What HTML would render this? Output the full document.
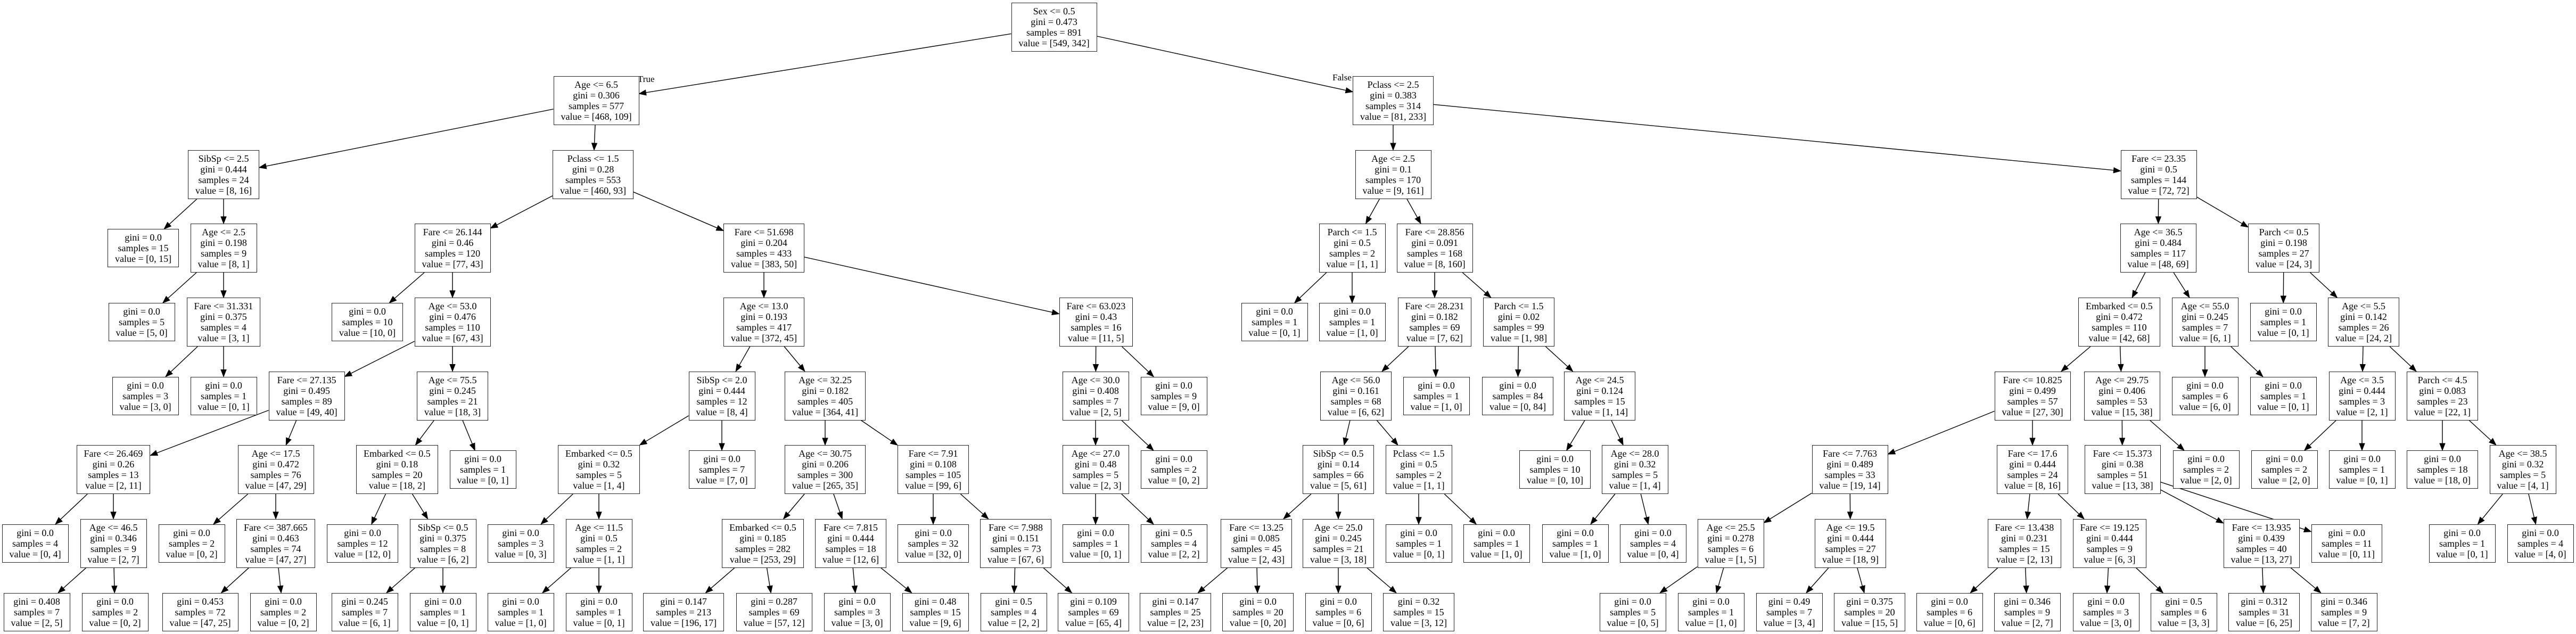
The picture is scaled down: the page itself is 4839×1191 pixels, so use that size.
<!DOCTYPE html>
<html><head><meta charset="utf-8">
<style>
html,body{margin:0;padding:0;background:#fff;}
#c{position:relative;width:4839px;height:1191px;overflow:hidden;background:#fff;}
.n{position:absolute;box-sizing:border-box;border:1.5px solid #222;background:#fff;
font-family:"Liberation Serif",serif;font-size:18px;line-height:20px;text-align:center;
padding:5px 13px;white-space:nowrap;color:#000;}
.lbl{position:absolute;font-family:"Liberation Serif",serif;font-size:17px;line-height:18px;color:#000;white-space:nowrap;}
svg{position:absolute;left:0;top:0;}
</style></head><body>
<div id="c">
<svg id="s" width="4839" height="1191"></svg>
<div class="lbl" style="left:1198px;top:140px;">True</div>
<div class="lbl" style="left:2503px;top:137px;">False</div>
</div>
<script>
var Y=[50.5,189,328,466,605,743.5,882,1020.7,1149.7];
function I(f,g,s,v){return [f,"gini = "+g,"samples = "+s,"value = ["+v+"]"];}
function Lf(g,s,v){return ["gini = "+g,"samples = "+s,"value = ["+v+"]"];}
var N=[
[1980,0,I("Sex <= 0.5","0.473",891,"549, 342"),-1],
[1120,1,I("Age <= 6.5","0.306",577,"468, 109"),0],
[2617,1,I("Pclass <= 2.5","0.383",314,"81, 233"),0],
[420,2,I("SibSp <= 2.5","0.444",24,"8, 16"),1],
[1114,2,I("Pclass <= 1.5","0.28",553,"460, 93"),1],
[2617,2,I("Age <= 2.5","0.1",170,"9, 161"),2],
[4055,2,I("Fare <= 23.35","0.5",144,"72, 72"),2],
[269,3,Lf("0.0",15,"0, 15"),3],
[420,3,I("Age <= 2.5","0.198",9,"8, 1"),3],
[850,3,I("Fare <= 26.144","0.46",120,"77, 43"),4],
[1435,3,I("Fare <= 51.698","0.204",433,"383, 50"),4],
[2540,3,I("Parch <= 1.5","0.5",2,"1, 1"),5],
[2695,3,I("Fare <= 28.856","0.091",168,"8, 160"),5],
[4054,3,I("Age <= 36.5","0.484",117,"48, 69"),6],
[4290,3,I("Parch <= 0.5","0.198",27,"24, 3"),6],
[266,4,Lf("0.0",5,"5, 0"),8],
[420,4,I("Fare <= 31.331","0.375",4,"3, 1"),8],
[690,4,Lf("0.0",10,"10, 0"),9],
[850,4,I("Age <= 53.0","0.476",110,"67, 43"),9],
[1435,4,I("Age <= 13.0","0.193",417,"372, 45"),10],
[2059,4,I("Fare <= 63.023","0.43",16,"11, 5"),10],
[2394,4,Lf("0.0",1,"0, 1"),11],
[2540,4,Lf("0.0",1,"1, 0"),11],
[2695,4,I("Fare <= 28.231","0.182",69,"7, 62"),12],
[2853,4,I("Parch <= 1.5","0.02",99,"1, 98"),12],
[3981,4,I("Embarked <= 0.5","0.472",110,"42, 68"),13],
[4142,4,I("Age <= 55.0","0.245",7,"6, 1"),13],
[4289,4,Lf("0.0",1,"0, 1"),14],
[4440,4,I("Age <= 5.5","0.142",26,"24, 2"),14],
[273,5,Lf("0.0",3,"3, 0"),16],
[420,5,Lf("0.0",1,"0, 1"),16],
[576,5,I("Fare <= 27.135","0.495",89,"49, 40"),18],
[850,5,I("Age <= 75.5","0.245",21,"18, 3"),18],
[1356,5,I("SibSp <= 2.0","0.444",12,"8, 4"),19],
[1550,5,I("Age <= 32.25","0.182",405,"364, 41"),19],
[2058,5,I("Age <= 30.0","0.408",7,"2, 5"),20],
[2205,5,Lf("0.0",9,"9, 0"),20],
[2547,5,I("Age <= 56.0","0.161",68,"6, 62"),23],
[2698,5,Lf("0.0",1,"1, 0"),23],
[2851,5,Lf("0.0",84,"0, 84"),24],
[3005,5,I("Age <= 24.5","0.124",15,"1, 14"),24],
[3818,5,I("Fare <= 10.825","0.499",57,"27, 30"),25],
[3986,5,I("Age <= 29.75","0.406",53,"15, 38"),25],
[4142,5,Lf("0.0",6,"6, 0"),26],
[4289,5,Lf("0.0",1,"0, 1"),26],
[4437,5,I("Age <= 3.5","0.444",3,"2, 1"),28],
[4588,5,I("Parch <= 4.5","0.083",23,"22, 1"),28],
[213,6,I("Fare <= 26.469","0.26",13,"2, 11"),31],
[518,6,I("Age <= 17.5","0.472",76,"47, 29"),31],
[746,6,I("Embarked <= 0.5","0.18",20,"18, 2"),32],
[907,6,Lf("0.0",1,"0, 1"),32],
[1125,6,I("Embarked <= 0.5","0.32",5,"1, 4"),33],
[1356,6,Lf("0.0",7,"7, 0"),33],
[1550,6,I("Age <= 30.75","0.206",300,"265, 35"),34],
[1753,6,I("Fare <= 7.91","0.108",105,"99, 6"),34],
[2058,6,I("Age <= 27.0","0.48",5,"2, 3"),35],
[2205,6,Lf("0.0",2,"0, 2"),35],
[2514,6,I("SibSp <= 0.5","0.14",66,"5, 61"),37],
[2665,6,I("Pclass <= 1.5","0.5",2,"1, 1"),37],
[2921,6,Lf("0.0",10,"0, 10"),40],
[3071,6,I("Age <= 28.0","0.32",5,"1, 4"),40],
[3475,6,I("Fare <= 7.763","0.489",33,"19, 14"),41],
[3818,6,I("Fare <= 17.6","0.444",24,"8, 16"),41],
[3987,6,I("Fare <= 15.373","0.38",51,"13, 38"),42],
[4144,6,Lf("0.0",2,"2, 0"),42],
[4291,6,Lf("0.0",2,"2, 0"),45],
[4437,6,Lf("0.0",1,"0, 1"),45],
[4588,6,Lf("0.0",18,"18, 0"),46],
[4739,6,I("Age <= 38.5","0.32",5,"4, 1"),46],
[66,7,Lf("0.0",4,"0, 4"),47],
[213,7,I("Age <= 46.5","0.346",9,"2, 7"),47],
[360,7,Lf("0.0",2,"0, 2"),48],
[518,7,I("Fare <= 387.665","0.463",74,"47, 27"),48],
[681,7,Lf("0.0",12,"12, 0"),49],
[832,7,I("SibSp <= 0.5","0.375",8,"6, 2"),49],
[978,7,Lf("0.0",3,"0, 3"),51],
[1125,7,I("Age <= 11.5","0.5",2,"1, 1"),51],
[1433,7,I("Embarked <= 0.5","0.185",282,"253, 29"),53],
[1598,7,I("Fare <= 7.815","0.444",18,"12, 6"),53],
[1753,7,Lf("0.0",32,"32, 0"),54],
[1908,7,I("Fare <= 7.988","0.151",73,"67, 6"),54],
[2058,7,Lf("0.0",1,"0, 1"),55],
[2205,7,Lf("0.5",4,"2, 2"),55],
[2360,7,I("Fare <= 13.25","0.085",45,"2, 43"),57],
[2514,7,I("Age <= 25.0","0.245",21,"3, 18"),57],
[2665,7,Lf("0.0",1,"0, 1"),58],
[2811,7,Lf("0.0",1,"1, 0"),58],
[2959,7,Lf("0.0",1,"1, 0"),60],
[3105,7,Lf("0.0",4,"0, 4"),60],
[3251,7,I("Age <= 25.5","0.278",6,"1, 5"),61],
[3476,7,I("Age <= 19.5","0.444",27,"18, 9"),61],
[3803,7,I("Fare <= 13.438","0.231",15,"2, 13"),62],
[3963,7,I("Fare <= 19.125","0.444",9,"6, 3"),62],
[4248,7,I("Fare <= 13.935","0.439",40,"13, 27"),63],
[4408,7,Lf("0.0",11,"0, 11"),63],
[4625,7,Lf("0.0",1,"0, 1"),68],
[4772,7,Lf("0.0",4,"4, 0"),68],
[69,8,Lf("0.408",7,"2, 5"),70],
[216,8,Lf("0.0",2,"0, 2"),70],
[376,8,Lf("0.453",72,"47, 25"),72],
[532,8,Lf("0.0",2,"0, 2"),72],
[685,8,Lf("0.245",7,"6, 1"),74],
[832,8,Lf("0.0",1,"0, 1"),74],
[978,8,Lf("0.0",1,"1, 0"),76],
[1125,8,Lf("0.0",1,"0, 1"),76],
[1284,8,Lf("0.147",213,"196, 17"),77],
[1454,8,Lf("0.287",69,"57, 12"),77],
[1610,8,Lf("0.0",3,"3, 0"),78],
[1757,8,Lf("0.48",15,"9, 6"),78],
[1904,8,Lf("0.5",4,"2, 2"),80],
[2054,8,Lf("0.109",69,"65, 4"),80],
[2208,8,Lf("0.147",25,"2, 23"),83],
[2363,8,Lf("0.0",20,"0, 20"),83],
[2514,8,Lf("0.0",6,"0, 6"),84],
[2665,8,Lf("0.32",15,"3, 12"),84],
[3067,8,Lf("0.0",5,"0, 5"),89],
[3214,8,Lf("0.0",1,"1, 0"),89],
[3361,8,Lf("0.49",7,"3, 4"),90],
[3512,8,Lf("0.375",20,"15, 5"),90],
[3662,8,Lf("0.0",6,"0, 6"),91],
[3808,8,Lf("0.346",9,"2, 7"),91],
[3956,8,Lf("0.0",3,"3, 0"),92],
[4102,8,Lf("0.5",6,"3, 3"),92],
[4253,8,Lf("0.312",31,"6, 25"),93],
[4403,8,Lf("0.346",9,"7, 2"),93]
];
var c=document.getElementById('c'),B=[];
N.forEach(function(n){
 var d=document.createElement('div');d.className='n';d.innerHTML=n[2].join('<br>');
 c.appendChild(d);var w=d.offsetWidth,h=d.offsetHeight;
 var x=n[0]-w/2,y=Y[n[1]]-h/2;d.style.left=x+'px';d.style.top=y+'px';
 B.push({cx:n[0],cy:Y[n[1]],hw:w/2,hh:h/2});
});
function clip(b,dx,dy){var t=Infinity;
 if(dx!==0)t=Math.min(t,b.hw/Math.abs(dx));
 if(dy!==0)t=Math.min(t,b.hh/Math.abs(dy));return t;}
var s='';
N.forEach(function(n,i){if(n[3]<0)return;var p=B[n[3]],q=B[i];
 var dx=q.cx-p.cx,dy=q.cy-p.cy,L=Math.sqrt(dx*dx+dy*dy),ux=dx/L,uy=dy/L;
 var t1=clip(p,dx,dy),t2=clip(q,-dx,-dy);
 var x1=p.cx+dx*t1,y1=p.cy+dy*t1,x2=q.cx-dx*t2,y2=q.cy-dy*t2;
 var al=13,aw=5,bx=x2-ux*al,by=y2-uy*al;
 s+='<line x1="'+x1+'" y1="'+y1+'" x2="'+bx+'" y2="'+by+'" stroke="#000" stroke-width="1.4"/>';
 s+='<polygon points="'+x2+','+y2+' '+(bx-uy*aw)+','+(by+ux*aw)+' '+(bx+uy*aw)+','+(by-ux*aw)+'" fill="#000" stroke="#000" stroke-width="1"/>';
});
document.getElementById('s').innerHTML=s;
</script>
</body></html>
